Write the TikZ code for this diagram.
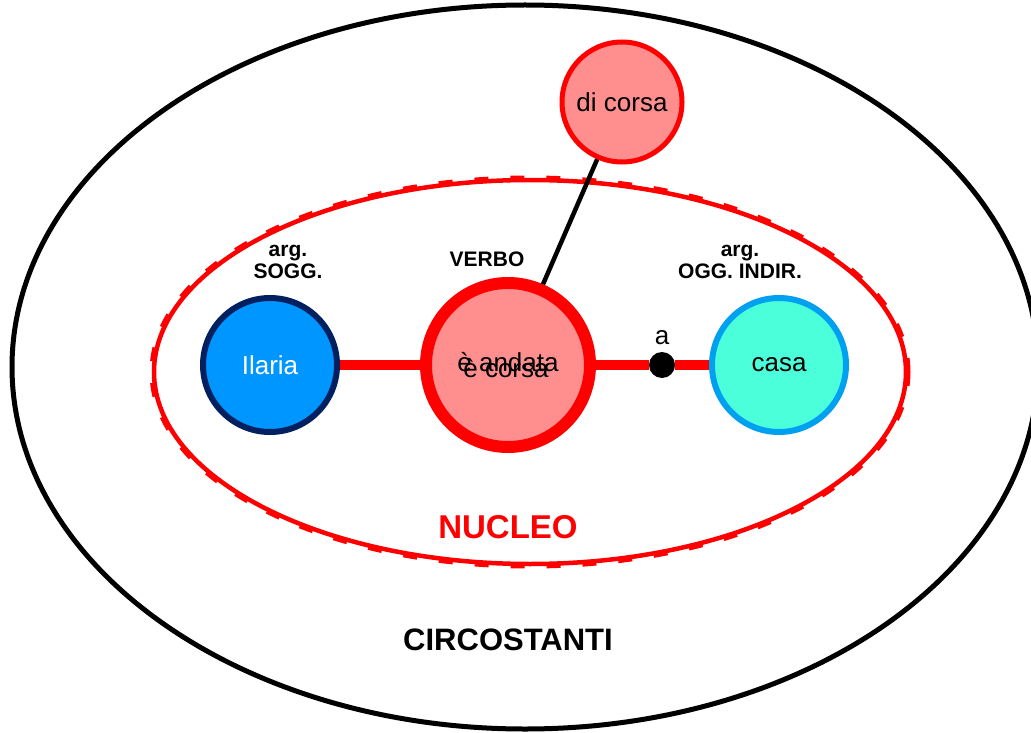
\documentclass[tikz,border=0pt]{standalone}
\usepackage{fontspec}
\setmainfont{Liberation Sans}
\definecolor{navy}{HTML}{002060}
\definecolor{skyfill}{HTML}{0096FF}
\definecolor{salmon}{HTML}{FF8F8F}
\definecolor{aqua}{HTML}{4BFFDB}
\definecolor{aqualine}{HTML}{00A0F0}
\tikzset{
  arg/.style={circle, minimum size=134pt, inner sep=0pt, line width=6pt, font=\fontsize{26}{28}\selectfont},
  label/.style={font=\bfseries\fontsize{21}{22}\selectfont, align=center},
  link/.style={red, line width=10pt}
}
\begin{document}
\begin{tikzpicture}[x=1pt, y=-1pt]
  \clip (0,0) rectangle (1031,733);
  \fill[white] (0,0) rectangle (1031,733);

  % circostanti
  \draw[line width=5pt] (525,367) ellipse [x radius=513, y radius=362];
  % nucleo
  \draw[red, line width=4.5pt] (530,372) ellipse [x radius=376, y radius=192];
  \draw[red, line width=3pt, dash pattern=on 14pt off 22pt] (530,372) ellipse [x radius=379, y radius=195];

  \node[circle, minimum size=120pt, inner sep=0pt, line width=5pt, draw=red, fill=salmon,
        font=\fontsize{26}{28}\selectfont] (dicorsa) at (622,102) {di corsa};
  \node[arg, draw=navy, fill=skyfill, text=white] (ilaria) at (270,365) {Ilaria};
  \node[circle, minimum size=164pt, inner sep=0pt, line width=12pt, draw=red, fill=salmon] (verbo) at (508,365) {};
  \node[arg, draw=aqualine, fill=aqua] (casa) at (779,365) {casa};
  \node[circle, fill=black, minimum size=26pt, inner sep=0pt] (prep) at (662,365) {};

  \draw[line width=4.5pt] (dicorsa) -- (verbo);
  \draw[link] (ilaria) -- (verbo);
  \draw[link] (verbo) -- (prep) -- (casa);

  \node[font=\fontsize{26}{28}\selectfont] (andata) at (508,362) {è andata};
  \node[font=\fontsize{26}{28}\selectfont] (corsa) at (506,368) {è corsa};
  \node[font=\fontsize{26}{28}\selectfont] (a) at (662,338) {a};

  \node[label] (sogg) at (288,262) {arg.\\SOGG.};
  \node[label] (verb) at (487,259) {VERBO};
  \node[label] (indir) at (740,262) {arg.\\OGG. INDIR.};

  \node[red, font=\bfseries\fontsize{33}{35}\selectfont] (nucleo) at (508,527) {NUCLEO};
  \node[font=\bfseries\fontsize{31}{33}\selectfont] (circ) at (508,640) {CIRCOSTANTI};
\end{tikzpicture}
\end{document}
